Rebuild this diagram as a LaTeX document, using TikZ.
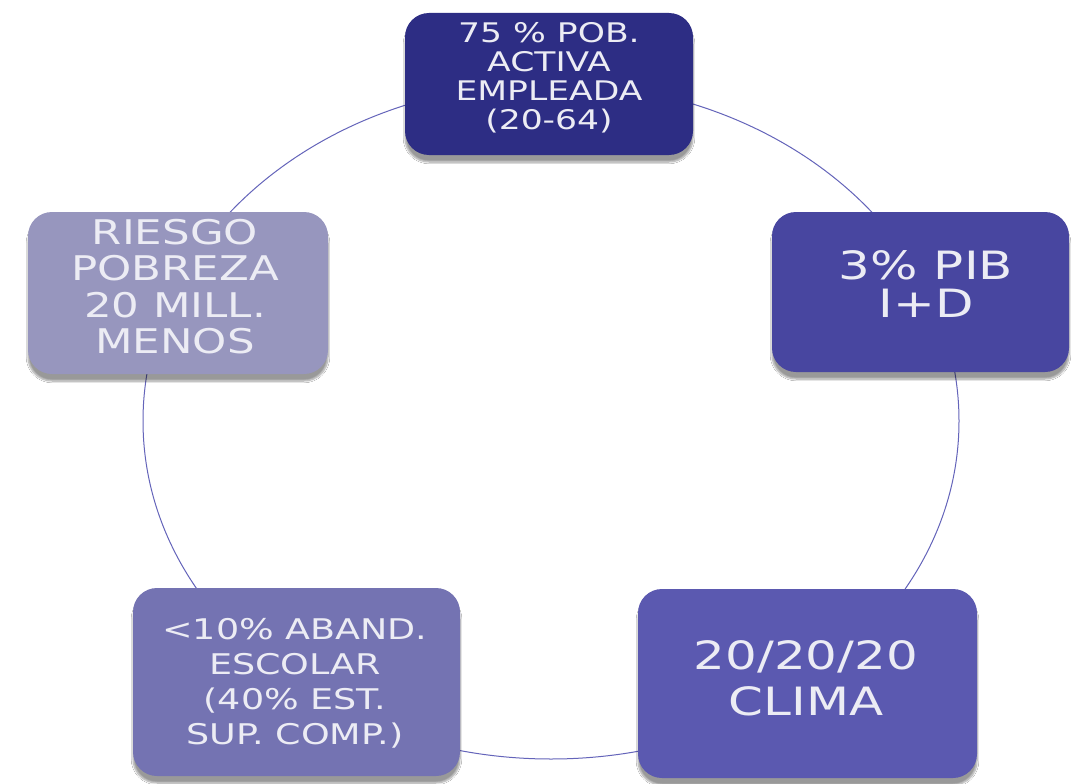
\documentclass[tikz,border=0pt]{standalone}
\usepackage{fontspec}
\newfontfamily\vfont[FakeStretch=1.28]{DejaVu Sans}
\usetikzlibrary{shadows.blur}
\definecolor{cA}{RGB}{45,45,132}
\definecolor{cB}{RGB}{72,70,160}
\definecolor{cC}{RGB}{91,89,176}
\definecolor{cD}{RGB}{116,115,178}
\definecolor{cE}{RGB}{151,150,190}
\definecolor{ring}{RGB}{100,100,186}
\definecolor{txt}{RGB}{236,236,244}
\tikzset{
  box/.style={draw=none, rounded corners=24pt, inner sep=0pt,
    blur shadow={shadow xshift=0pt, shadow yshift=-7pt, shadow blur steps=8, shadow opacity=40}},
  lbl/.style={text=txt, align=center, inner sep=0pt, font=\vfont},
  circ/.style={draw=ring, line width=1pt}
}
\begin{document}
\begin{tikzpicture}[x=1pt,y=-1pt]
\useasboundingbox (0,0) rectangle (1071,784);
\fill[white] (0,0) rectangle (1071,784);
\draw[circ] (551,421) ellipse [x radius=408pt, y radius=338pt];
% boxes
\node[box, fill=cA, minimum width=288pt, minimum height=142pt] (b1) at (549,84) {};
\node[box, fill=cB, minimum width=297pt, minimum height=160pt] (b2) at (920.5,292) {};
\node[box, fill=cC, minimum width=339pt, minimum height=189pt] (b3) at (807.5,683.5) {};
\node[box, fill=cD, minimum width=327pt, minimum height=188pt] (b4) at (296.5,682) {};
\node[box, fill=cE, minimum width=300pt, minimum height=162pt] (b5) at (178,293) {};
% texts
\node[lbl, font=\vfont\fontsize{27}{28.9}\selectfont] (t1) at (549,78) {75 \% POB.\\ACTIVA\\EMPLEADA\\(20-64)};
\node[lbl, font=\vfont\fontsize{39}{38}\selectfont] (t2) at (926,284) {3\% PIB\\I+D};
\node[lbl, font=\vfont\fontsize{39}{46}\selectfont] (t3) at (806,678) {20/20/20\\CLIMA};
\node[lbl, font=\vfont\fontsize{28.5}{35}\selectfont] (t4) at (295,683) {<10\% ABAND.\\ESCOLAR\\(40\% EST.\\SUP. COMP.)};
\node[lbl, font=\vfont\fontsize{34}{36.5}\selectfont] (t5) at (175,286.5) {RIESGO\\POBREZA\\20 MILL.\\MENOS};
\end{tikzpicture}
\end{document}
